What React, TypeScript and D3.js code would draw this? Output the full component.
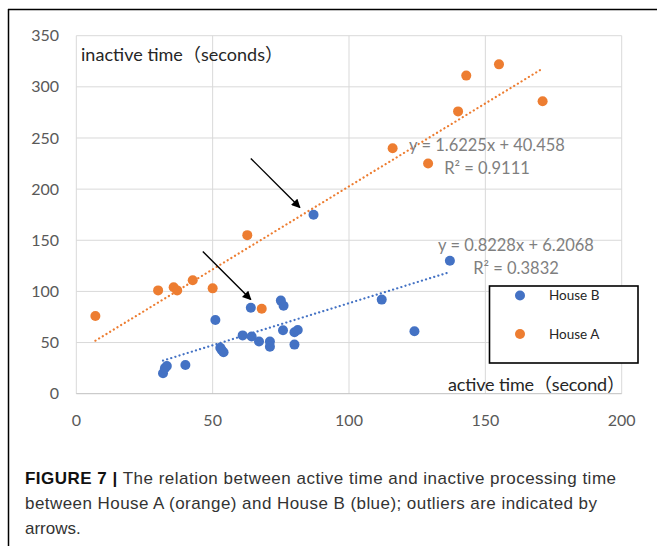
import React, { useEffect, useRef } from 'react';
import * as d3 from 'd3';

// House A (orange) — [active, inactive]
const houseA: [number, number][] = [
  [7, 76], [30, 101], [35.7, 104], [37, 101], [42.7, 111], [50, 103],
  [62.7, 155], [68, 83], [116, 240], [129, 225], [140, 276], [143, 311],
  [155, 322], [171, 286],
];

// House B (blue)
const houseB: [number, number][] = [
  [31.8, 20], [32.5, 25], [33.2, 27], [40, 28], [51, 72], [52.8, 45],
  [53.3, 42.7], [54, 40.5], [61, 57], [64, 84], [64.3, 56], [67, 51],
  [71, 51], [71, 46], [75, 91], [76, 86], [75.8, 62], [80, 48], [80, 60],
  [81.2, 62.3], [87, 175], [112, 92], [124, 61], [137, 130],
];

const fitA = { slope: 1.6225, intercept: 40.458, from: 7, to: 170.5, eq: 'y = 1.6225x + 40.458', r2: '0.9111' };
const fitB = { slope: 0.8228, intercept: 6.2068, from: 31.8, to: 135.8, eq: 'y = 0.8228x + 6.2068', r2: '0.3832' };

const xTicks = [0, 50, 100, 150, 200];
const yTicks = [0, 50, 100, 150, 200, 250, 300, 350];

// outlier arrows: [x1, y1, x2, y2] in data units
const arrows: [number, number, number, number][] = [
  [64, 230, 82, 182],
  [46.4, 139, 64, 92],
];

const ORANGE = '#ED7D31';
const BLUE = '#4472C4';
const CHART_FONT = 'Lato, "Noto Sans CJK SC", sans-serif';

export default function App() {
  const svgRef = useRef<SVGSVGElement>(null);

  useEffect(() => {
    if (!svgRef.current) return;
    const svg = d3.select(svgRef.current);
    svg.selectAll('*').remove();

    const x = d3.scaleLinear().domain([0, 200]).range([76.3, 621.7]);
    const y = d3.scaleLinear().domain([0, 350]).range([393.7, 35.7]);

    // figure frame (top + left)
    svg.append('line').attr('x1', 8).attr('x2', 657).attr('y1', 9.5).attr('y2', 9.5)
      .attr('stroke', '#000').attr('stroke-width', 1.5);
    svg.append('line').attr('x1', 8.5).attr('x2', 8.5).attr('y1', 9).attr('y2', 546)
      .attr('stroke', '#000').attr('stroke-width', 1.5);

    const defs = svg.append('defs');
    defs.append('marker')
      .attr('id', 'arrowhead')
      .attr('viewBox', '0 0 10 10')
      .attr('refX', 9).attr('refY', 5)
      .attr('markerWidth', 9).attr('markerHeight', 9)
      .attr('markerUnits', 'userSpaceOnUse')
      .attr('orient', 'auto')
      .append('path').attr('d', 'M0,0 L10,5 L0,10 z').attr('fill', '#000');

    const g = svg.append('g');

    // grid
    g.selectAll('.vgrid').data(xTicks).enter().append('line')
      .attr('x1', d => x(d)).attr('x2', d => x(d))
      .attr('y1', y(350)).attr('y2', y(0))
      .attr('stroke', '#d9d9d9').attr('stroke-width', 1);
    g.selectAll('.hgrid').data(yTicks).enter().append('line')
      .attr('x1', x(0)).attr('x2', x(200))
      .attr('y1', d => y(d)).attr('y2', d => y(d))
      .attr('stroke', d => (d === 0 ? '#bfbfbf' : '#d9d9d9')).attr('stroke-width', 1);

    // tick labels
    g.selectAll('.ylab').data(yTicks).enter().append('text')
      .attr('x', 59).attr('y', d => y(d)).attr('dy', '0.35em')
      .attr('text-anchor', 'end')
      .attr('font-family', CHART_FONT).attr('font-size', 16).attr('fill', '#595959')
      .text(d => d);
    g.selectAll('.xlab').data(xTicks).enter().append('text')
      .attr('x', d => x(d)).attr('y', 420).attr('dy', '0.35em')
      .attr('text-anchor', 'middle')
      .attr('font-family', CHART_FONT).attr('font-size', 16).attr('fill', '#595959')
      .text(d => d);

    // axis titles
    g.append('text').attr('x', 81).attr('y', 55).attr('dy', '0.35em')
      .attr('font-family', CHART_FONT).attr('font-size', 18).attr('fill', '#262626')
      .attr('textLength', 202).attr('lengthAdjust', 'spacing')
      .text('inactive time（seconds）');
    g.append('text').attr('x', 448).attr('y', 385).attr('dy', '0.35em')
      .attr('font-family', CHART_FONT).attr('font-size', 18).attr('fill', '#262626')
      .attr('textLength', 177).attr('lengthAdjust', 'spacing')
      .text('active time（second）');

    // trendlines
    [{ fit: fitA, color: ORANGE }, { fit: fitB, color: BLUE }].forEach(({ fit, color }) => {
      g.append('line')
        .attr('x1', x(fit.from)).attr('y1', y(fit.slope * fit.from + fit.intercept))
        .attr('x2', x(fit.to)).attr('y2', y(fit.slope * fit.to + fit.intercept))
        .attr('stroke', color).attr('stroke-width', 2.2)
        .attr('stroke-dasharray', '0.1 4.2').attr('stroke-linecap', 'round');
    });

    // points
    g.selectAll('.ptA').data(houseA).enter().append('circle')
      .attr('cx', d => x(d[0])).attr('cy', d => y(d[1])).attr('r', 5)
      .attr('fill', ORANGE);
    g.selectAll('.ptB').data(houseB).enter().append('circle')
      .attr('cx', d => x(d[0])).attr('cy', d => y(d[1])).attr('r', 5)
      .attr('fill', BLUE);

    // equations
    const eqs = [
      { fit: fitA, cx: 487, cy: 145 },
      { fit: fitB, cx: 516, cy: 245 },
    ];
    eqs.forEach(({ fit, cx, cy }) => {
      g.append('text').attr('x', cx).attr('y', cy).attr('dy', '0.35em')
        .attr('text-anchor', 'middle')
        .attr('font-family', CHART_FONT).attr('font-size', 16.5).attr('fill', '#7f7f7f')
        .text(fit.eq);
      g.append('text').attr('x', cx).attr('y', cy + 23.5).attr('dy', '0.35em')
        .attr('text-anchor', 'middle')
        .attr('font-family', CHART_FONT).attr('font-size', 16.5).attr('fill', '#7f7f7f')
        .text(`R² = ${fit.r2}`);
    });

    // arrows
    g.selectAll('.arrow').data(arrows).enter().append('line')
      .attr('x1', d => x(d[0])).attr('y1', d => y(d[1]))
      .attr('x2', d => x(d[2])).attr('y2', d => y(d[3]))
      .attr('stroke', '#000').attr('stroke-width', 1.4)
      .attr('marker-end', 'url(#arrowhead)');

    // legend
    const legend = g.append('g');
    legend.append('rect').attr('x', 489.5).attr('y', 286).attr('width', 148.5).attr('height', 77)
      .attr('fill', '#fff').attr('stroke', '#000').attr('stroke-width', 1.6);
    const items = [{ name: 'House B', color: BLUE }, { name: 'House A', color: ORANGE }];
    items.forEach((it, i) => {
      const cy = 295.5 + i * 38.5;
      legend.append('circle').attr('cx', 520).attr('cy', cy).attr('r', 5).attr('fill', it.color);
      legend.append('text').attr('x', 549).attr('y', cy).attr('dy', '0.35em')
        .attr('font-family', CHART_FONT).attr('font-size', 13.5).attr('fill', '#262626')
        .text(it.name);
    });

    // caption
    const cap = svg.append('g').attr('font-family', '"Liberation Sans", Arial, sans-serif')
      .attr('font-size', 17).attr('fill', '#333');
    const l1 = cap.append('text').attr('x', 25).attr('y', 484)
      .attr('textLength', 591).attr('lengthAdjust', 'spacing');
    l1.append('tspan').attr('font-weight', 'bold').attr('fill', '#111').text('FIGURE 7 |');
    l1.append('tspan').text(' The relation between active time and inactive processing time');
    cap.append('text').attr('x', 25).attr('y', 509)
      .attr('textLength', 572).attr('lengthAdjust', 'spacing')
      .text('between House A (orange) and House B (blue); outliers are indicated by');
    cap.append('text').attr('x', 25).attr('y', 534).text('arrows.');
  }, []);

  return (
    <svg
      ref={svgRef}
      width={657}
      height={546}
      style={{ position: 'absolute', left: 0, top: 0, background: '#fff' }}
    />
  );
}
